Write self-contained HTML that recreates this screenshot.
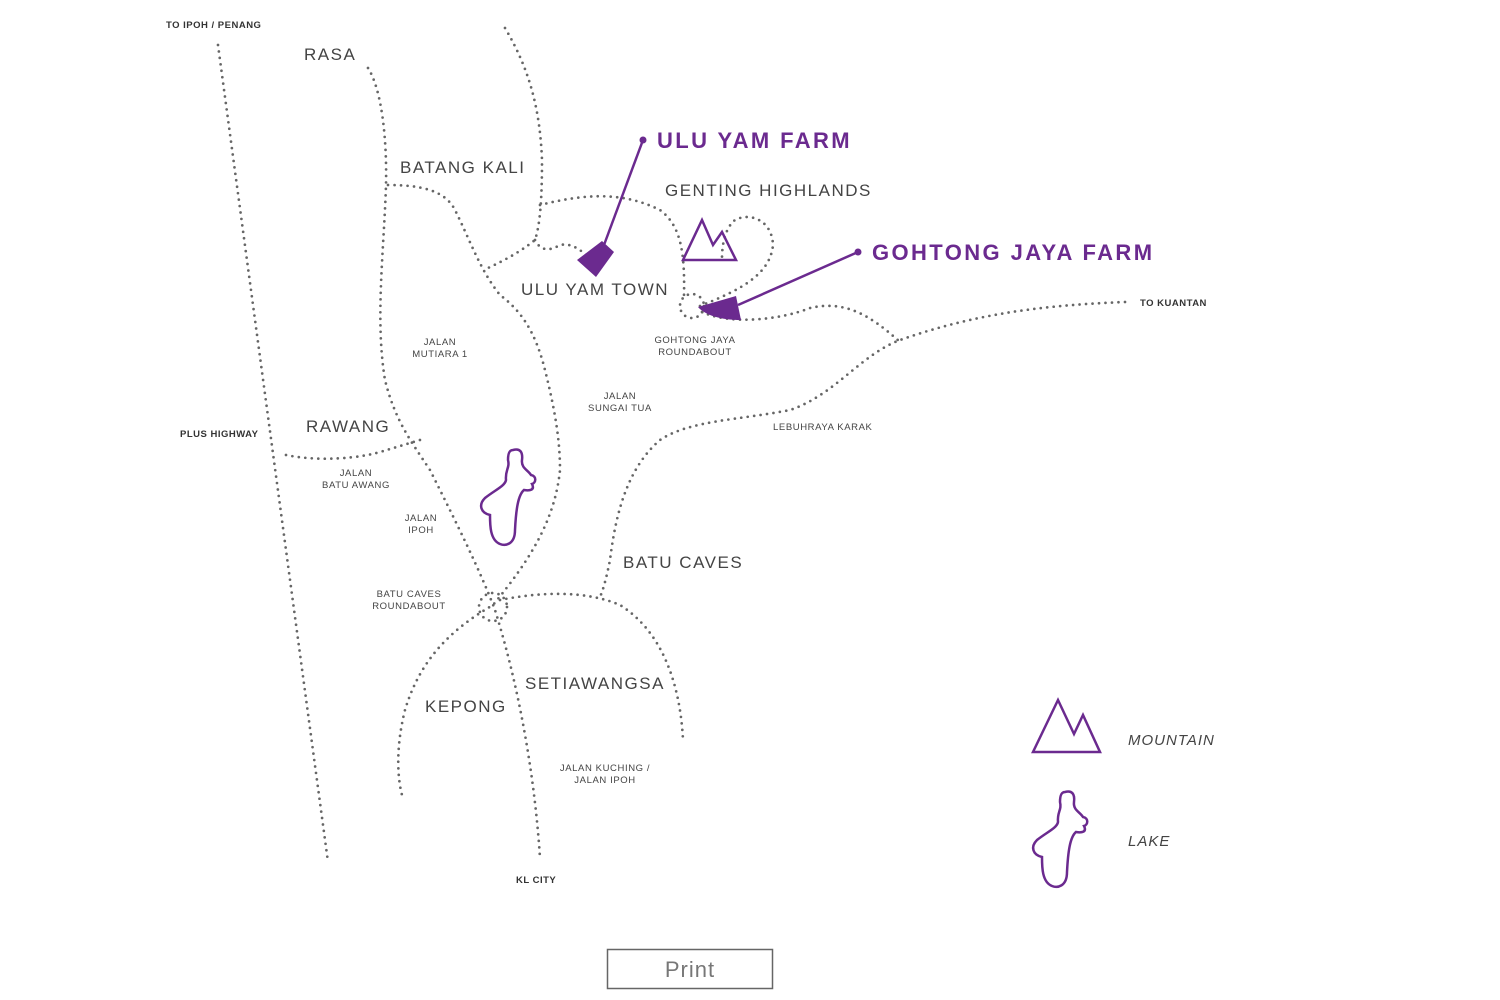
<!DOCTYPE html>
<html><head><meta charset="utf-8"><style>
body{margin:0;background:#fff;}
svg{display:block}
text{font-family:"Liberation Sans",sans-serif;fill:#444;}
.r{fill:none;stroke:#666;stroke-width:2.7;stroke-dasharray:0 6.5;stroke-linecap:round}
.big{font-size:17px;letter-spacing:1.5px}
.sm{font-size:9.5px;letter-spacing:0.6px}
.b{font-size:9.5px;font-weight:bold;letter-spacing:0.5px;fill:#333}
.farm{font-size:22px;font-weight:bold;fill:#6b2a8f;letter-spacing:2.4px}
.p{fill:none;stroke:#6b2a8f;stroke-width:2.5}
</style></head><body>
<svg width="1500" height="1000" viewBox="0 0 1500 1000">
<path class="r" d="M218,45 L328,862"/>
<path class="r" d="M368,68 C382,90 387,140 386,185 C384,250 375,320 385,380 C395,420 410,440 430,470 C455,520 480,570 495,610 C520,690 535,780 540,858"/>
<path class="r" d="M505,28 C530,70 540,110 542,160 C542,200 540,225 535,240 C520,252 505,260 488,268"/>
<path class="r" d="M388,185 C420,185 445,190 455,210 C470,240 480,270 500,295 C520,310 535,330 545,370 C555,410 560,440 560,470 C555,520 530,560 493,605 C450,630 420,660 405,710 C395,750 398,780 402,795"/>
<path class="r" d="M540,205 C580,195 620,190 660,210 C680,225 685,250 684,295"/>
<path class="r" d="M535,240 C540,250 548,252 560,245 C575,242 585,255 595,262"/>
<path class="r" d="M700,306 C740,290 770,275 773,245 C772,220 750,212 735,220 C725,228 722,245 722,258"/>
<path class="r" d="M702,312 C730,325 780,320 810,308 C845,300 870,315 900,342"/>
<path class="r" d="M1125,302 C1050,305 980,312 900,340 C860,355 835,395 790,410 C740,420 690,420 660,440 C625,470 615,520 610,560 C606,580 603,590 600,597"/>
<path class="r" d="M500,600 C540,592 585,590 620,605 C660,630 680,680 683,740"/>
<path class="r" d="M286,455 C320,462 360,458 380,452 C400,446 410,443 420,440"/>
<circle class="r" cx="493" cy="607" r="14"/>
<circle class="r" cx="692" cy="306" r="12"/>
<path class="p" d="M683,260 L702,220 L713,245 L722,232 L736,260 Z"/>
<path id="lake" class="p" d="M513,450 C520,448 523,452 522,460 C521,468 528,470 531,475 C537,476 536,483 532,484 C535,490 530,491 524,490 C518,495 516,510 515,530 C515,545 505,546 500,544 C490,540 490,525 490,515 C481,513 478,505 485,498 C495,490 505,486 506,480 C505,470 510,468 508,460 C508,452 510,450 513,450 Z"/>
<line x1="643" y1="140" x2="604" y2="245" stroke="#6b2a8f" stroke-width="2.5"/>
<circle cx="643" cy="140" r="3.5" fill="#6b2a8f"/>
<polygon points="577,260 602,241 614,252 596,277" fill="#6b2a8f"/>
<line x1="858" y1="252" x2="738" y2="305" stroke="#6b2a8f" stroke-width="2.5"/>
<circle cx="858" cy="252" r="3.5" fill="#6b2a8f"/>
<path d="M698,307 L736,296 L741,320 C720,320 705,315 698,307 Z" fill="#6b2a8f"/>
<path class="p" d="M1033,752 L1058,700 L1074,734 L1083,715 L1100,752 Z"/>
<use href="#lake" transform="translate(552,342)"/>
<text class="b" x="166" y="28">TO IPOH / PENANG</text>
<text class="big" x="304" y="60">RASA</text>
<text class="big" x="400" y="173">BATANG KALI</text>
<text class="farm" x="657" y="148">ULU YAM FARM</text>
<text class="big" x="665" y="196">GENTING HIGHLANDS</text>
<text class="farm" x="872" y="260">GOHTONG JAYA FARM</text>
<text class="big" x="521" y="295">ULU YAM TOWN</text>
<text class="b" x="1140" y="306">TO KUANTAN</text>
<text class="sm" x="695" y="343" text-anchor="middle">GOHTONG JAYA</text>
<text class="sm" x="695" y="355" text-anchor="middle">ROUNDABOUT</text>
<text class="sm" x="440" y="345" text-anchor="middle">JALAN</text>
<text class="sm" x="440" y="357" text-anchor="middle">MUTIARA 1</text>
<text class="sm" x="620" y="399" text-anchor="middle">JALAN</text>
<text class="sm" x="620" y="411" text-anchor="middle">SUNGAI TUA</text>
<text class="sm" x="773" y="430">LEBUHRAYA KARAK</text>
<text class="b" x="180" y="437">PLUS HIGHWAY</text>
<text class="big" x="306" y="432">RAWANG</text>
<text class="sm" x="356" y="476" text-anchor="middle">JALAN</text>
<text class="sm" x="356" y="488" text-anchor="middle">BATU AWANG</text>
<text class="sm" x="421" y="521" text-anchor="middle">JALAN</text>
<text class="sm" x="421" y="533" text-anchor="middle">IPOH</text>
<text class="big" x="623" y="568">BATU CAVES</text>
<text class="sm" x="409" y="597" text-anchor="middle">BATU CAVES</text>
<text class="sm" x="409" y="609" text-anchor="middle">ROUNDABOUT</text>
<text class="big" x="525" y="689">SETIAWANGSA</text>
<text class="big" x="425" y="712">KEPONG</text>
<text class="sm" x="605" y="771" text-anchor="middle">JALAN KUCHING /</text>
<text class="sm" x="605" y="783" text-anchor="middle">JALAN IPOH</text>
<text class="b" x="516" y="883">KL CITY</text>
<text x="1128" y="745" style="font-size:15px;font-style:italic;letter-spacing:1px">MOUNTAIN</text>
<text x="1128" y="846" style="font-size:15px;font-style:italic;letter-spacing:1px">LAKE</text>
<rect x="607.5" y="949.5" width="165" height="39" fill="#fff" stroke="#666" stroke-width="1.5"/>
<text x="690" y="977" text-anchor="middle" style="font-size:22px;fill:#777;letter-spacing:1px">Print</text>
</svg>
</body></html>
